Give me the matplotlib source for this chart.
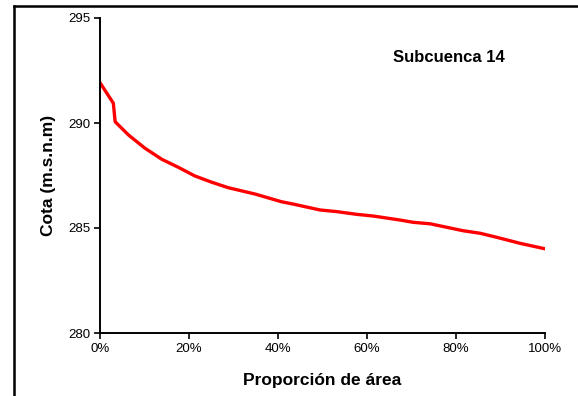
import matplotlib
matplotlib.use('Agg')
import matplotlib.pyplot as plt
from matplotlib.lines import Line2D
from matplotlib.ticker import PercentFormatter

# curva hipsometrica, valores
area_pct = [0, 3.0, 3.4, 6.4, 10.1, 13.9, 17.6, 21.3, 25.1, 28.8, 34.8, 40.8,
            43.4, 49.4, 53.2, 57.7, 61.4, 67.4, 70.4, 74.2, 81.6, 85.4, 89.1,
            94.4, 100]
cota = [291.92, 290.94, 290.06, 289.43, 288.80, 288.27, 287.89, 287.48,
        287.18, 286.92, 286.62, 286.25, 286.14, 285.86, 285.78, 285.65,
        285.57, 285.38, 285.27, 285.20, 284.87, 284.75, 284.56, 284.27, 284.01]
y_ticks = [280, 285, 290, 295]
x_ticks = [0, 20, 40, 60, 80, 100]

plt.rcParams['font.family'] = ['Liberation Sans', 'DejaVu Sans']

fig = plt.figure(figsize=(5.78, 3.96), dpi=100)
ax = fig.add_axes([100 / 578, 63 / 396, 445 / 578, 315 / 396])

ax.plot(area_pct, cota, color='#ff0000', lw=2.4, solid_joinstyle='round')

ax.set_xlim(0, 100)
ax.set_ylim(280, 295)
ax.set_xticks(x_ticks)
ax.set_yticks(y_ticks)
ax.xaxis.set_major_formatter(PercentFormatter(decimals=0))
ax.tick_params(direction='out', length=4, width=1.2, labelsize=9.5, pad=3)

for side in ['top', 'right']:
    ax.spines[side].set_visible(False)
for side in ['left', 'bottom']:
    ax.spines[side].set_linewidth(1.4)

ax.set_xlabel('Proporción de área', fontsize=12.5, fontweight='bold', labelpad=13)
ax.set_ylabel('Cota (m.s.n.m)', fontsize=12.5, fontweight='bold', labelpad=9)
ax.text(0.784, 0.875, 'Subcuenca 14', transform=ax.transAxes, ha='center',
        va='center', fontsize=12, fontweight='bold')

# marco de la figura (solo izquierda y arriba)
fig.add_artist(Line2D([14 / 578, 14 / 578], [0, 1 - 6 / 396], color='black',
                      lw=1.8, transform=fig.transFigure))
fig.add_artist(Line2D([14 / 578, 1], [1 - 6 / 396, 1 - 6 / 396], color='black',
                      lw=1.8, transform=fig.transFigure))

fig.savefig('out.png', dpi=100)
